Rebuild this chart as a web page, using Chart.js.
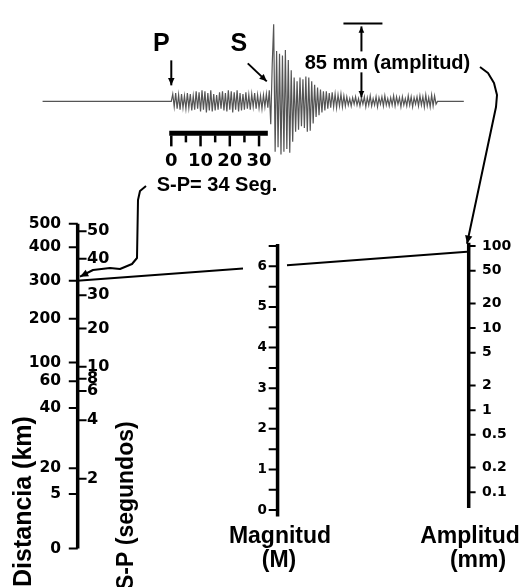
<!DOCTYPE html>
<html>
<head>
<meta charset="utf-8">
<script src="https://cdn.jsdelivr.net/npm/chart.js@4"></script>
<style>
  html, body { margin: 0; padding: 0; background: #fff; }
  #wrap { width: 522px; height: 587px; }
</style>
</head>
<body>
<div id="wrap"><canvas id="nomo" width="522" height="587"></canvas></div>
<script>
// --- data ---
// distance scale (km) and the -log A0 value each tick sits at
const distKm = [0, 5, 20, 40, 60, 100, 200, 300, 400, 500];
const distLogA0 = [0.78, 1.45, 1.77, 2.51, 2.84, 3.07, 3.61, 4.08, 4.49, 4.78];
// S-P time (s) on the same scale
const spSeconds = [2, 4, 6, 8, 10, 20, 30, 40, 50];
const spLogA0 = [1.64, 2.36, 2.72, 2.87, 3.02, 3.49, 3.90, 4.35, 4.69];
// magnitude
const magTicks = [0, 0.5, 1, 1.5, 2, 2.5, 3, 3.5, 4, 4.5, 5, 5.5, 6, 6.5];
const magLabels = [0, 1, 2, 3, 4, 5, 6];
// amplitude (mm), log scale
const ampTicks = [100, 50, 20, 10, 5, 2, 1, 0.5, 0.2, 0.1];
// seismogram time bar (s)
const timeBarTicks = [0, 5, 10, 15, 20, 25, 30];
const timeBarLabels = [0, 10, 20, 30];
// seismogram trace: amplitude in mm, one sample every 0.5 s from the P arrival
const traceStart = -44, traceEnd = 100, traceDt = 0.5;
const traceMm = [
  0, 8, -6, 9, -8, 7, -9, 8, -7, 6,
  -8, 9, -7, 8, -10, 6, -9, 11, -8, 10,
  -11, 12, -9, 11, -12, 9, -10, 12, -11, 8,
  -10, 7, -9, 10, -8, 11, -10, 9, -11, 12,
  -9, 11, -12, 10, -9, 12, -11, 9, -10, 8,
  -9, 10, -8, 7, -9, 8, -6, 9, -8, 7,
  -7, 6, -8, 7, -6, 8, -7,
  12, -25, 40, 84, -55, 55, -50, 52, -58, 50,
  -55, 56, -52, 45, -56, 34, -44, 26, -33, 22,
  -31, 26, -27, 24, -29, 27, -33, 26, -32, 22,
  -24, 18, -17, 15, -15, 13, -12, 11, -10, 11,
  -8, 9, -7, 10, -6, 8, -7, 7, -5, 8,
  -6, 6, -5, 5,
  -4, 3, -5, 4, -3, 5, -4, 3, -5, 4,
  -3, 5, -6, 4, -4, 6, -5, 3, -4, 5,
  -6, 4, -3, 5, -5, 6, -4, 3, -5, 4,
  -4, 6, -5, 5, -3, 4, -6, 5, -4, 3,
  -5, 6, -4, 5, -6, 4, -3, 5, -5, 6,
  -4, 5, -6, 7, -5, 4, -6, 7, -5, 6,
  -3, 0
];
// worked example
const readSP = 34, readDistLogA0 = 4.08, readAmpMm = 85, readMag = 6;
const ampMarkTime = 65;

// --- layout (page pixels) ---
const AX = { dist: 73, mag: 278, amp: 474 };

const tracePts = [{ x: traceStart, y: 0 }]
  .concat(traceMm.map((v, i) => ({ x: i * traceDt, y: v })))
  .concat([{ x: traceEnd, y: 0 }]);

function axisLine(x, yAxisID, lo, hi) {
  return {
    data: [{ x: x, y: lo }, { x: x, y: hi }],
    xAxisID: 'x', yAxisID: yAxisID, showLine: true,
    borderColor: '#000', borderWidth: 3.5, pointRadius: 0, borderCapStyle: 'butt'
  };
}
function tickSet(x, yAxisID, vals, len) {
  return {
    data: vals.map(v => ({ x: x, y: v })),
    xAxisID: 'x', yAxisID: yAxisID, showLine: false,
    pointStyle: 'line', pointRadius: len / 2, pointBorderColor: '#000', pointBorderWidth: 2
  };
}

function arrow(ctx, pts, head) {
  ctx.beginPath();
  ctx.moveTo(pts[0][0], pts[0][1]);
  for (let i = 1; i < pts.length; i++) ctx.lineTo(pts[i][0], pts[i][1]);
  ctx.stroke();
  const [x1, y1] = pts[pts.length - 2], [x2, y2] = pts[pts.length - 1];
  const a = Math.atan2(y2 - y1, x2 - x1);
  ctx.beginPath();
  ctx.moveTo(x2, y2);
  ctx.lineTo(x2 - head * Math.cos(a - 0.42), y2 - head * Math.sin(a - 0.42));
  ctx.lineTo(x2 - head * Math.cos(a + 0.42), y2 - head * Math.sin(a + 0.42));
  ctx.closePath();
  ctx.fill();
}

const tickFont = s => 'bold ' + s + 'px "DejaVu Sans", Verdana, sans-serif';
const titleFont = s => 'bold ' + s + 'px "Liberation Sans", Arial, sans-serif';

const nomoText = {
  id: 'nomoText',
  afterDatasetsDraw(chart) {
    const { ctx, scales } = chart;
    const tS = scales.time, mm = scales.mm, dS = scales.y, mS = scales.mag, aS = scales.amp;
    ctx.save();
    ctx.fillStyle = '#000';
    ctx.strokeStyle = '#000';
    ctx.lineJoin = 'round';

    // tick labels
    ctx.textBaseline = 'middle';
    ctx.font = tickFont(15.5); ctx.textAlign = 'right';
    distKm.forEach((v, i) => ctx.fillText(String(v), AX.dist - 12, dS.getPixelForValue(distLogA0[i])));
    ctx.font = tickFont(16); ctx.textAlign = 'left';
    spSeconds.forEach((v, i) => ctx.fillText(String(v), AX.dist + 14, dS.getPixelForValue(spLogA0[i])));
    ctx.font = tickFont(13.5); ctx.textAlign = 'right';
    magLabels.forEach(v => ctx.fillText(String(v), AX.mag - 11, mS.getPixelForValue(v)));
    ctx.font = tickFont(14); ctx.textAlign = 'left';
    ampTicks.forEach(v => ctx.fillText(String(v), AX.amp + 8, aS.getPixelForValue(v)));

    // axis titles
    ctx.textBaseline = 'alphabetic';
    ctx.textAlign = 'center';
    ctx.font = titleFont(23);
    ctx.fillText('Magnitud', AX.mag + 2, 543);
    ctx.fillText('(M)', AX.mag + 1, 567);
    ctx.fillText('Amplitud', AX.amp - 4, 543);
    ctx.fillText('(mm)', AX.amp + 4, 567);
    ctx.textAlign = 'left';
    ctx.font = titleFont(25);
    ctx.save(); ctx.translate(31, 587); ctx.rotate(-Math.PI / 2);
    ctx.fillText('Distancia (km)', 0, 0); ctx.restore();
    ctx.font = titleFont(23);
    ctx.save(); ctx.translate(133, 590); ctx.rotate(-Math.PI / 2);
    ctx.fillText('S-P (segundos)', 0, 0); ctx.restore();

    // seismogram annotations
    const base = mm.getPixelForValue(0);
    const xP = tS.getPixelForValue(0), xS = tS.getPixelForValue(readSP);
    ctx.textAlign = 'center';
    ctx.font = titleFont(25);
    ctx.fillText('P', xP - 10, 51);
    ctx.fillText('S', xS - 32, 51);
    ctx.lineWidth = 2;
    arrow(ctx, [[xP, base - 41], [xP, base - 16]], 8);
    arrow(ctx, [[xS - 23, base - 38], [xS - 4, base - 20]], 8);

    const xA = tS.getPixelForValue(ampMarkTime), yTop = mm.getPixelForValue(readAmpMm);
    ctx.beginPath(); ctx.moveTo(xA - 18, yTop); ctx.lineTo(xA + 21, yTop); ctx.stroke();
    arrow(ctx, [[xA, yTop + 28], [xA, yTop + 3]], 7);
    arrow(ctx, [[xA, base - 29], [xA, base - 4]], 7);
    ctx.font = titleFont(20);
    ctx.fillText('85 mm (amplitud)', xA + 26, base - 32);

    // time bar
    const barY = base + 32;
    ctx.lineWidth = 5; ctx.lineCap = 'butt';
    ctx.beginPath(); ctx.moveTo(tS.getPixelForValue(-0.7), barY); ctx.lineTo(tS.getPixelForValue(33), barY); ctx.stroke();
    ctx.lineWidth = 2.5;
    timeBarTicks.forEach(t => {
      const x = tS.getPixelForValue(t);
      ctx.beginPath(); ctx.moveTo(x, barY + 2); ctx.lineTo(x, barY + (t % 10 === 0 ? 13 : 9)); ctx.stroke();
    });
    ctx.font = tickFont(18);
    timeBarLabels.forEach(t => ctx.fillText(String(t), tS.getPixelForValue(t), barY + 33));
    ctx.font = titleFont(20);
    ctx.fillText('S-P= ' + readSP + ' Seg.', 217, barY + 58);

    // reading line: distance 300 km -> amplitude 85 mm, through M 6
    const x1 = AX.dist + 4, y1 = dS.getPixelForValue(readDistLogA0);
    const x2 = AX.amp - 7, y2 = aS.getPixelForValue(readAmpMm);
    const yAt = x => y1 + (y2 - y1) * (x - x1) / (x2 - x1);
    const gapL = AX.mag - 35, gapR = AX.mag + 9;
    ctx.lineWidth = 2;
    ctx.beginPath();
    ctx.moveTo(x1, y1); ctx.lineTo(gapL, yAt(gapL));
    ctx.moveTo(gapR, yAt(gapR)); ctx.lineTo(x2, y2);
    ctx.stroke();

    // curved pointers
    const yD = dS.getPixelForValue(readDistLogA0);
    arrow(ctx, [[146, 186], [140, 191], [138, 200], [137, 258], [132, 264], [120, 269], [110, 268], [93, 270], [AX.dist + 7, yD - 4]], 9);
    const yAmpTop = aS.getPixelForValue(110);
    arrow(ctx, [[480, 67], [488, 73], [494, 83], [497, 95], [496, 107], [AX.amp - 7, yAmpTop + 1]], 9);

    ctx.restore();
  }
};

new Chart(document.getElementById('nomo'), {
  type: 'scatter',
  data: {
    datasets: [
      {
        data: tracePts, xAxisID: 'time', yAxisID: 'mm', showLine: true,
        borderColor: '#555', borderWidth: 1.2, pointRadius: 0, tension: 0
      },
      axisLine(AX.dist, 'y', distLogA0[0], distLogA0[distLogA0.length - 1]),
      tickSet(AX.dist - 4.5, 'y', distLogA0, 9),
      tickSet(AX.dist + 4.5, 'y', spLogA0, 9),
      axisLine(AX.mag, 'mag', -0.16, 6.55),
      tickSet(AX.mag - 4.5, 'mag', magTicks, 9),
      axisLine(AX.amp, 'amp', 0.064, 110),
      tickSet(AX.amp + 3.5, 'amp', ampTicks, 7)
    ]
  },
  options: {
    responsive: false,
    animation: false,
    devicePixelRatio: 1,
    events: [],
    layout: { padding: 0 },
    plugins: { legend: { display: false }, tooltip: { enabled: false } },
    scales: {
      x: { type: 'linear', axis: 'x', position: 'bottom', min: 0, max: 522, display: false },
      time: { type: 'linear', axis: 'x', position: 'bottom', min: -169 / 3, max: (522 - 169) / 3, display: false },
      mm: { type: 'linear', axis: 'y', position: 'left', min: -522.6, max: 103.46, display: false },
      y: { type: 'linear', axis: 'y', position: 'left', min: 32 / 83, max: 619 / 83, display: false },
      mag: { type: 'linear', axis: 'y', position: 'left', min: -72 / 41.55, max: 515 / 41.55, display: false },
      amp: { type: 'logarithmic', axis: 'y', position: 'left', bounds: 'data',
             min: Math.pow(10, -174.2 / 83.9), max: Math.pow(10, 412.8 / 83.9), display: false }
    }
  },
  plugins: [nomoText]
});
</script>
</body>
</html>
